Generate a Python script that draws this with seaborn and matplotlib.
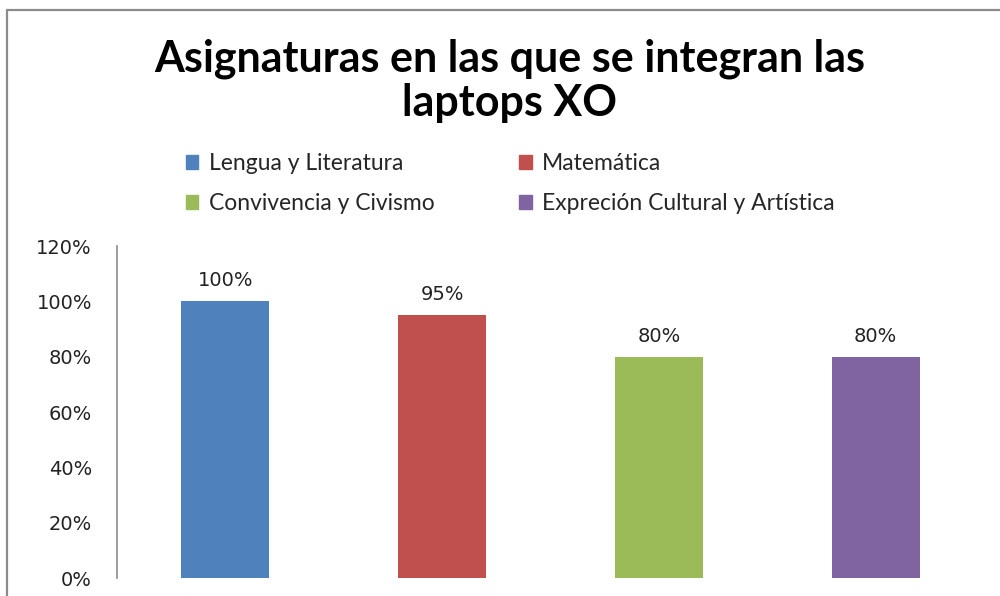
import pandas as pd
import numpy as np
import matplotlib.pyplot as plt
import matplotlib.ticker as mticker
from matplotlib.patches import Rectangle
import seaborn as sns

categorias = ["Lengua y Literatura", "Matemática",
              "Convivencia y Civismo", "Expreción Cultural y Artística"]
valores = [1.00, 0.95, 0.80, 0.80]
colores = ["#4F81BD", "#C0504D", "#9BBB59", "#8064A2"]
yticks = [0, 0.2, 0.4, 0.6, 0.8, 1.0, 1.2]

df = pd.DataFrame({"Asignatura": categorias, "Porcentaje": valores})

sns.set_theme(style="white")
plt.rcParams['font.family'] = ['DejaVu Sans']

fig = plt.figure(figsize=(10, 5.96), dpi=100)
ax = fig.add_axes([0.117, 0.0302, 0.867, 0.5570])

sns.barplot(data=df, x="Asignatura", y="Porcentaje", hue="Asignatura",
            palette=colores, width=0.406, legend=False, ax=ax,
            saturation=1, linewidth=0)

ax.set_ylim(0, 1.2)
ax.set_yticks(yticks)
ax.yaxis.set_major_formatter(mticker.PercentFormatter(1.0, decimals=0))
ax.tick_params(axis='y', length=0, pad=18, labelsize=14, labelcolor="#222222")
ax.set_xticks([])
ax.set_xlabel("")
ax.set_ylabel("")
for s in ["top", "right", "bottom"]:
    ax.spines[s].set_visible(False)
ax.spines["left"].set_color("#8c8c8c")
ax.spines["left"].set_linewidth(1.2)

for cont in ax.containers:
    ax.bar_label(cont, labels=[f"{v*100:.0f}%" for v in cont.datavalues],
                 padding=8, fontsize=14, color="#222222")

# titulo
fig.text(0.510, 0.864, "Asignaturas en las que se integran las\nlaptops XO",
         ha="center", va="center", fontsize=31, fontweight="bold",
         color="black", family=["Lato", "DejaVu Sans"], linespacing=1.13)

# leyenda (orden por filas)
orden = [0, 2, 1, 3]
handles = [Rectangle((0, 0), 1, 1, color=colores[i]) for i in orden]
fig.legend(handles, [categorias[i] for i in orden], ncol=2,
           loc="upper left", bbox_to_anchor=(0.165, 0.778),
           frameon=False, handlelength=0.55, handleheight=0.55,
           handletextpad=0.45, columnspacing=3.7, labelspacing=0.85,
           prop={"family": ["Lato", "DejaVu Sans"], "size": 16.5})

# marco del grafico
fig.add_artist(Rectangle((7 / 1000, -0.1), 1.2, 1 - 10 / 596 + 0.1,
                         transform=fig.transFigure, fill=False,
                         edgecolor="#8c8c8c", linewidth=1.6))

fig.savefig("out.png", dpi=100)
